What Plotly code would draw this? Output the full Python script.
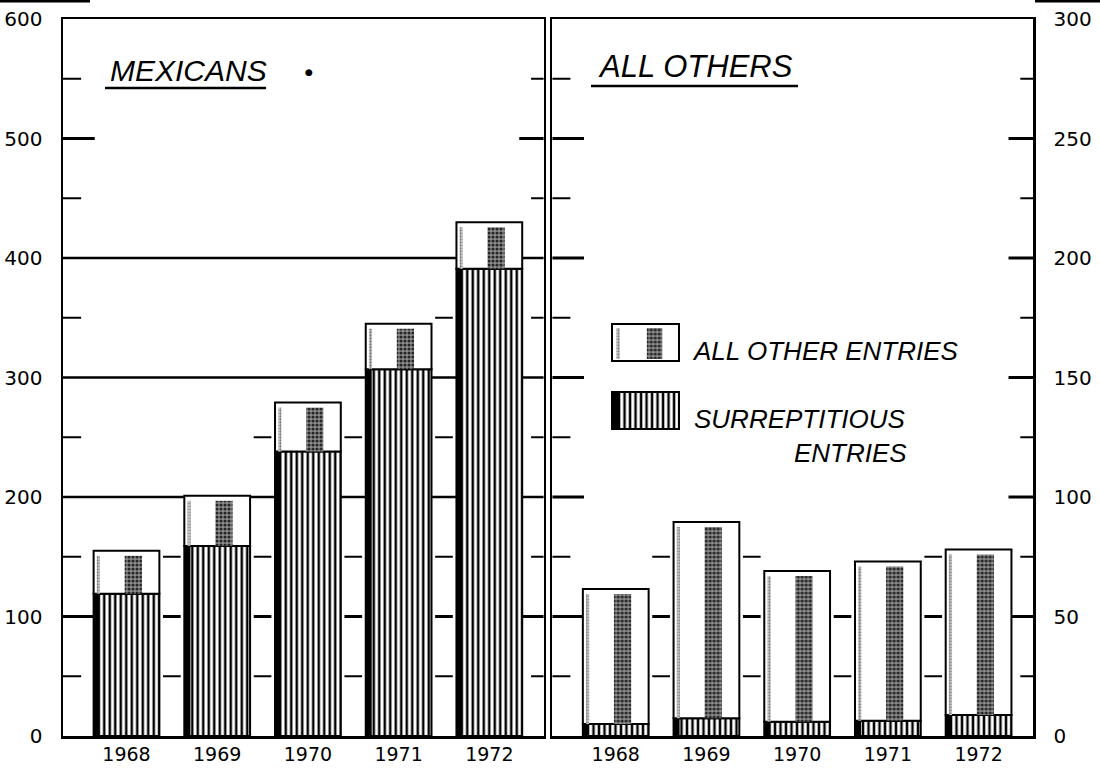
import plotly.graph_objects as go

# ---------------- data ----------------
years = ["1968", "1969", "1970", "1971", "1972"]
mex_surreptitious = [119, 159, 238, 307, 391]
mex_total = [155, 201, 279, 345, 430]
oth_surreptitious = [5, 7.4, 6, 6.4, 8.8]
oth_total = [61.5, 89.5, 69, 73, 78]

left_ticks = [0, 100, 200, 300, 400, 500, 600]
right_ticks = [0, 50, 100, 150, 200, 250, 300]

# ---------------- style constants ----------------
W, H = 1100, 768
ML, MR, MT, MB = 63, 67, 19, 32
PW = W - ML - MR
PH = H - MT - MB
XR = [-0.7, 4.6]
BW = 0.725
NUM_FONT = "DejaVu Sans"
LET_FONT = "Liberation Sans"

HATCH = dict(shape="|", fgcolor="black", bgcolor="white", size=5.5, solidity=0.45, fillmode="replace")
STRIPE = dict(shape=".", fgcolor="#262626", bgcolor="#8e8e8e", size=4, solidity=0.5, fillmode="replace")
LIGHT = dict(shape=".", fgcolor="#7a7a7a", bgcolor="#d4d4d4", size=3, solidity=0.45, fillmode="replace")


def px_x(p):
    return (p - ML) / PW


def px_y(p):
    return (H - MB - p) / PH


fig = go.Figure()
shapes = []


def add_panel(surrep, total, xa, ya, ymax, major, minor, full_lines):
    idx = list(range(len(years)))
    other = [t - s for s, t in zip(surrep, total)]
    pad = 0.007 * ymax
    common = dict(xaxis=xa, yaxis=ya, showlegend=False, hoverinfo="skip")
    # surreptitious (hatched)
    fig.add_trace(go.Bar(x=idx, y=surrep, base=[0] * 5, width=BW,
                         marker=dict(color="white", pattern=HATCH,
                                     line=dict(color="black", width=2)), **common))
    # thick dark left edge of hatched part
    fig.add_trace(go.Bar(x=[i - BW / 2 + 0.033 for i in idx], y=surrep, base=[0] * 5, width=0.066,
                         marker=dict(color="black", line=dict(width=0)), **common))
    # all other entries (white box)
    fig.add_trace(go.Bar(x=idx, y=other, base=surrep, width=BW,
                         marker=dict(color="white", line=dict(color="black", width=2)), **common))
    # grey stripe inside
    fig.add_trace(go.Bar(x=[i + 0.075 for i in idx], y=[o - pad for o in other], base=surrep,
                         width=0.19, marker=dict(color="#8e8e8e", pattern=STRIPE, line=dict(width=0)),
                         **common))
    # light stippled stripe near the left edge
    fig.add_trace(go.Bar(x=[i - 0.31 for i in idx], y=[o - pad for o in other], base=surrep,
                         width=0.035, marker=dict(color="#d4d4d4", pattern=LIGHT, line=dict(width=0)),
                         **common))

    # grid dashes
    level = minor
    while level < ymax:
        is_major = abs(level / major - round(level / major)) < 1e-9
        lw = 3 if is_major else 2
        if level in full_lines:
            shapes.append(dict(type="line", xref=xa, yref=ya, x0=XR[0], x1=XR[1], y0=level, y1=level,
                               line=dict(color="black", width=2.5), layer="below"))
        else:
            ll = 0.35 if is_major else 0.2
            rl = 0.27 if is_major else 0.14
            shapes.append(dict(type="line", xref=xa, yref=ya, x0=XR[0], x1=XR[0] + ll, y0=level, y1=level,
                               line=dict(color="black", width=lw), layer="below"))
            shapes.append(dict(type="line", xref=xa, yref=ya, x0=XR[1] - rl, x1=XR[1], y0=level, y1=level,
                               line=dict(color="black", width=lw), layer="below"))
            for i in range(len(years) - 1):
                if max(total[i], total[i + 1]) >= level:
                    g0 = i + BW / 2 + 0.04
                    g1 = i + 1 - BW / 2 - 0.04
                    shapes.append(dict(type="line", xref=xa, yref=ya, x0=g0, x1=g1, y0=level, y1=level,
                                       line=dict(color="black", width=lw), layer="below"))
        level += minor


add_panel(mex_surreptitious, mex_total, "x", "y", 600, 100, 50, [200, 300, 400])
add_panel(oth_surreptitious, oth_total, "x2", "y2", 300, 50, 25, [])

# ---------------- legend swatches (mini subplot) ----------------
lg = dict(xaxis="x3", yaxis="y3", showlegend=False, hoverinfo="skip")
fig.add_trace(go.Bar(x=[0.5], y=[37], base=[68], width=1,
                     marker=dict(color="white", line=dict(color="black", width=2)), **lg))
fig.add_trace(go.Bar(x=[0.635], y=[31], base=[70], width=0.23,
                     marker=dict(color="#8e8e8e", pattern=STRIPE, line=dict(width=0)), **lg))
fig.add_trace(go.Bar(x=[0.09], y=[31], base=[70], width=0.05,
                     marker=dict(color="#d4d4d4", pattern=LIGHT, line=dict(width=0)), **lg))
fig.add_trace(go.Bar(x=[0.5], y=[37], base=[0], width=1,
                     marker=dict(color="white", pattern=HATCH, line=dict(color="black", width=2)), **lg))
fig.add_trace(go.Bar(x=[0.05], y=[37], base=[0], width=0.1,
                     marker=dict(color="black", line=dict(width=0)), **lg))

# ---------------- text ----------------
annotations = []


def txt(s, x, y, size, xanchor="left", italic=True, font=LET_FONT):
    annotations.append(dict(text=s, x=x, y=y, xref="paper", yref="paper", xanchor=xanchor,
                            yanchor="middle", showarrow=False,
                            font=dict(family=font, size=size, color="black",
                                      style="italic" if italic else "normal")))


txt("MEXICANS", px_x(108), px_y(70), 30)
txt("●", px_x(303), px_y(72), 9, italic=False, font=NUM_FONT)
txt("ALL OTHERS", px_x(596), px_y(67), 31)
txt("ALL OTHER ENTRIES", px_x(690), px_y(351), 26)
txt("SURREPTITIOUS", px_x(692), px_y(419), 26)
txt("ENTRIES", px_x(792), px_y(453), 26)

# underlines
for x0, x1, y in [(105, 266, 88), (591, 798, 86)]:
    shapes.append(dict(type="line", xref="paper", yref="paper", x0=px_x(x0), x1=px_x(x1),
                       y0=px_y(y), y1=px_y(y), line=dict(color="black", width=2.5)))
# scan edge marks at the top corners
for x0, x1 in [(0, 90), (1035, 1100)]:
    shapes.append(dict(type="line", xref="paper", yref="paper", x0=px_x(x0), x1=px_x(x1),
                       y0=px_y(1), y1=px_y(1), line=dict(color="black", width=3)))

# ---------------- axes ----------------
axis_line = dict(showline=True, linecolor="black", linewidth=2.5, mirror=True,
                 showgrid=False, zeroline=False, ticks="", automargin=False, fixedrange=True)
xcommon = dict(range=XR, tickvals=list(range(len(years))), ticktext=years,
               tickfont=dict(family=NUM_FONT, size=19, color="black"), **axis_line)
ycommon = dict(tickfont=dict(family=NUM_FONT, size=20, color="black"), **axis_line)

split = (543.75 - ML) / PW
split2 = (552.25 - ML) / PW

fig.update_layout(
    width=W, height=H,
    margin=dict(l=ML, r=MR, t=MT, b=MB, autoexpand=False),
    paper_bgcolor="white", plot_bgcolor="rgba(0,0,0,0)",
    template="none",
    barmode="overlay",
    showlegend=False,
    xaxis=dict(domain=[0, split], anchor="y", **xcommon),
    yaxis=dict(domain=[0, 1], anchor="x", range=[0, 600], tickvals=left_ticks,
               ticklabelstandoff=14, **ycommon),
    xaxis2=dict(domain=[split2, 1], anchor="y2", **xcommon),
    yaxis2=dict(domain=[0, 1], anchor="x2", side="right", range=[0, 300], tickvals=right_ticks,
                ticklabelstandoff=14, **ycommon),
    xaxis3=dict(domain=[px_x(605.3), px_x(685.7)], anchor="y3", range=[-0.1, 1.1], visible=False,
                fixedrange=True),
    yaxis3=dict(domain=[px_y(433), px_y(320)], anchor="x3", range=[-4, 109], visible=False,
                fixedrange=True),
    shapes=shapes,
    annotations=annotations,
)

fig.write_html("out.html", config={"displayModeBar": False, "staticPlot": True},
               post_script="document.body.style.margin='0';document.body.style.padding='0';")
